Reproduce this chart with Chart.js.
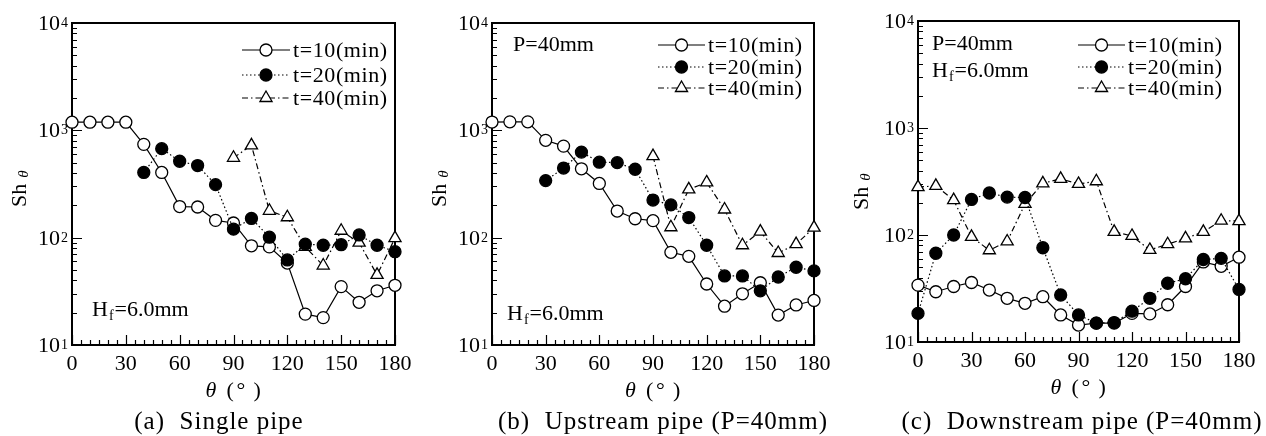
<!DOCTYPE html>
<html>
<head>
<meta charset="utf-8">
<script src="https://cdn.jsdelivr.net/npm/chart.js@4.4.1/dist/chart.umd.min.js"></script>
<style>
  body { margin: 0; background: #fff; }
  #wrap { position: relative; width: 1266px; height: 436px; }
  #wrap canvas { position: absolute; top: 0; }
</style>
</head>
<body>
<div id="wrap">
  <canvas id="panelA" width="422" height="436" style="left:0px"></canvas>
  <canvas id="panelB" width="422" height="436" style="left:422px"></canvas>
  <canvas id="panelC" width="422" height="436" style="left:844px"></canvas>
</div>
<script>
// ---- data: local Sherwood number vs. angle, three elapsed times ----
const thetaDeg = [0, 10, 20, 30, 40, 50, 60, 70, 80, 90, 100, 110, 120, 130, 140, 150, 160, 170, 180];
const thetaTicks = [0, 30, 60, 90, 120, 150, 180];
const thetaMinorStep = 5;
const shDecades = [10, 100, 1000, 10000];
const runLabels = ['t=10(min)', 't=20(min)', 't=40(min)'];

// (a) single pipe
const singleT10 = [1190, 1190, 1190, 1190, 740, 405, 195, 193, 145, 137, 84, 82, 58, 19.4, 18, 35, 25, 32, 36];
const singleT20 = [null, null, null, null, 405, 675, 515, 470, 312, 120, 151, 101, 62, 87, 85, 86, 106, 85, 74];
const singleT40 = [null, null, null, null, null, null, null, null, null, 555, 724, 178, 155, 82, 55, 116, 90, 45, 99];

// (b) upstream pipe
const upT10 = [1195, 1200, 1200, 807, 713, 438, 320, 177, 150, 144, 73, 67, 37, 23, 30, 38, 19, 23.6, 26];
const upT20 = [null, null, null, 340, 445, 627, 505, 500, 434, 224, 202, 154, 85, 44, 44, 32, 43, 53, 49];
const upT40 = [null, null, null, null, null, null, null, null, null, 575, 125, 282, 327, 183, 85, 114, 72, 87, 124];

// (c) downstream pipe
const downT10 = [34, 29.5, 33, 36, 30.6, 25.6, 23, 26.5, 17.9, 14.4, 15, 15, 18.5, 18.3, 22.3, 33, 56, 51, 62];
const downT20 = [18.5, 67.5, 100, 215, 247, 226, 224, 76, 27.5, 17.9, 15, 15.2, 19.4, 25.6, 35.4, 39, 59, 60.5, 31];
const downT40 = [280, 288, 212, 96, 72, 87, 195, 304, 335, 300, 318, 107, 98, 72.5, 82, 93, 107, 136, 135];

// ---- styles ----
const SERIF = '"Liberation Serif", "Times New Roman", serif';
const runStyles = [
  { pointStyle: 'circle',   fill: '#ffffff', dash: [],             r: 6, order: 2 },
  { pointStyle: 'circle',   fill: '#000000', dash: [1.5, 2.5],     r: 6, order: 0 },
  { pointStyle: 'triangle', fill: '#ffffff', dash: [6, 3, 1.5, 3], r: 7, order: 1 }
];

const panels = [
  {
    canvas: 'panelA', left: 0, series: [singleT10, singleT20, singleT40],
    pad: { left: 72, right: 27, top: 23, bottom: 91 },
    legend: { x0: 242, x1: 290, tx: 293, rows: [50, 75, 98] },
    notes: [{ x: 92, y: 316, h: true }],
    yTitle: { x: 26, y: 207 },
    caption: { text: '(a)  Single pipe', cx: 219 }
  },
  {
    canvas: 'panelB', left: 422, series: [upT10, upT20, upT40],
    pad: { left: 70, right: 30, top: 23, bottom: 91 },
    legend: { x0: 658, x1: 705, tx: 708, rows: [45, 67, 88] },
    notes: [{ x: 513, y: 51, text: 'P=40mm' }, { x: 507, y: 320, h: true }],
    yTitle: { x: 446, y: 207 },
    caption: { text: '(b)  Upstream pipe (P=40mm)', cx: 663 }
  },
  {
    canvas: 'panelC', left: 844, series: [downT10, downT20, downT40],
    pad: { left: 74, right: 27, top: 21, bottom: 94 },
    legend: { x0: 1078, x1: 1125, tx: 1128, rows: [45, 67, 88] },
    notes: [{ x: 932, y: 50, text: 'P=40mm' }, { x: 932, y: 77, h: true }],
    yTitle: { x: 868, y: 210 },
    caption: { text: '(c)  Downstream pipe (P=40mm)', cx: 1082 }
  }
];

function drawMarker(ctx, st, x, y) {
  ctx.save();
  ctx.setLineDash([]);
  ctx.lineWidth = 1.3;
  ctx.strokeStyle = '#000';
  ctx.fillStyle = st.fill;
  ctx.beginPath();
  if (st.pointStyle === 'triangle') {
    const r = st.r;
    ctx.moveTo(x, y - r);
    ctx.lineTo(x + r * 0.866, y + r / 2);
    ctx.lineTo(x - r * 0.866, y + r / 2);
    ctx.closePath();
  } else {
    ctx.arc(x, y, st.r, 0, Math.PI * 2);
  }
  ctx.fill();
  ctx.stroke();
  ctx.restore();
}

// H_f=6.0mm with a subscript f
function drawHf(ctx, x, y) {
  ctx.font = '22px ' + SERIF;
  ctx.fillText('H', x, y);
  let w = ctx.measureText('H').width;
  ctx.font = '14px ' + SERIF;
  ctx.fillText('f', x + w + 1, y + 4);
  w += ctx.measureText('f').width + 2;
  ctx.font = '22px ' + SERIF;
  ctx.fillText('=6.0mm', x + w, y);
}

const decor = {
  id: 'decor',
  beforeDatasetsDraw(chart, args, o) {
    const { ctx, chartArea: a, scales: { x, y } } = chart;
    ctx.save();
    ctx.strokeStyle = '#000';
    ctx.lineWidth = 2;
    ctx.strokeRect(a.left, a.top, a.right - a.left, a.bottom - a.top);

    // inward tick marks on the bottom and left edges
    ctx.lineWidth = 1.2;
    ctx.beginPath();
    for (let t = x.min; t <= x.max; t += thetaMinorStep) {
      const px = Math.round(x.getPixelForValue(t)) + 0.5;
      const len = thetaTicks.includes(t) ? 10 : 5;
      ctx.moveTo(px, a.bottom);
      ctx.lineTo(px, a.bottom - len);
    }
    shDecades.slice(0, -1).forEach(d => {
      for (let k = 1; k <= 9; k++) {
        const py = Math.round(y.getPixelForValue(k * d)) + 0.5;
        const len = k === 1 ? 10 : 5;
        ctx.moveTo(a.left, py);
        ctx.lineTo(a.left + len, py);
      }
    });
    ctx.stroke();
    ctx.restore();
  },
  afterDraw(chart, args, o) {
    const { ctx, chartArea: a, scales: { x, y } } = chart;
    const L = o.left;
    ctx.save();
    ctx.fillStyle = '#000';
    ctx.textBaseline = 'alphabetic';

    // y tick labels 10^n
    shDecades.forEach(d => {
      const py = y.getPixelForValue(d);
      ctx.font = '22px ' + SERIF;
      ctx.textAlign = 'right';
      ctx.fillText('10', a.left - 12, py + 7);
      ctx.font = '14px ' + SERIF;
      ctx.textAlign = 'left';
      ctx.fillText(String(Math.round(Math.log10(d))), a.left - 11, py + 4);
    });

    // x tick labels
    ctx.font = '22px ' + SERIF;
    ctx.textAlign = 'center';
    thetaTicks.forEach(t => ctx.fillText(String(t), x.getPixelForValue(t), a.bottom + 25));

    // x title: theta (deg)
    const cx = (a.left + a.right) / 2;
    const ty = a.bottom + 52;
    ctx.textAlign = 'left';
    ctx.font = 'italic 22px ' + SERIF;
    ctx.fillText('\u03b8', cx - 28, ty);
    ctx.font = '22px ' + SERIF;
    ctx.fillText('(', cx - 7, ty);
    ctx.fillText('\u00b0', cx + 3, ty);
    ctx.fillText(')', cx + 20, ty);

    // y title: Sh theta
    ctx.save();
    ctx.translate(o.yTitle.x - L, o.yTitle.y);
    ctx.rotate(-Math.PI / 2);
    ctx.font = '22px ' + SERIF;
    ctx.fillText('Sh', 0, 0);
    const sw = ctx.measureText('Sh').width;
    ctx.font = 'italic 15px ' + SERIF;
    ctx.fillText('\u03b8', sw + 6, 2);
    ctx.restore();

    // notes inside the frame
    o.notes.forEach(n => {
      if (n.h) {
        drawHf(ctx, n.x - L, n.y);
      } else {
        ctx.font = '22px ' + SERIF;
        ctx.fillText(n.text, n.x - L, n.y);
      }
    });

    // legend
    const lg = o.legend;
    chart.data.datasets.forEach((ds, i) => {
      const st = runStyles[i];
      const ry = lg.rows[i];
      ctx.save();
      ctx.lineWidth = 1.2;
      ctx.strokeStyle = '#000';
      ctx.setLineDash(st.dash);
      ctx.beginPath();
      ctx.moveTo(lg.x0 - L, ry);
      ctx.lineTo(lg.x1 - L, ry);
      ctx.stroke();
      ctx.restore();
      drawMarker(ctx, st, (lg.x0 + lg.x1) / 2 - L, ry);
      ctx.font = '22px ' + SERIF;
      ctx.letterSpacing = '0.6px';
      ctx.textAlign = 'left';
      ctx.fillText(ds.label, lg.tx - L, ry + 7);
      ctx.letterSpacing = '0px';
    });

    // caption
    ctx.font = '25px ' + SERIF;
    ctx.letterSpacing = '1px';
    ctx.textAlign = 'center';
    ctx.fillText(o.caption.text, o.caption.cx - L, 429);
    ctx.letterSpacing = '0px';
    ctx.restore();
  }
};

panels.forEach(p => {
  const datasets = p.series.map((vals, i) => {
    const st = runStyles[i];
    return {
      label: runLabels[i],
      data: thetaDeg.map((t, j) => ({ x: t, y: vals[j] })),
      borderColor: '#000',
      borderWidth: 1.2,
      borderDash: st.dash,
      pointStyle: st.pointStyle,
      pointRadius: st.r,
      pointBackgroundColor: st.fill,
      pointBorderColor: '#000',
      pointBorderWidth: 1.3,
      order: st.order,
      spanGaps: false,
      tension: 0,
      clip: false
    };
  });

  new Chart(document.getElementById(p.canvas), {
    type: 'line',
    data: { datasets },
    options: {
      responsive: false,
      animation: false,
      devicePixelRatio: 1,
      layout: { padding: p.pad },
      scales: {
        x: { type: 'linear', min: 0, max: 180, display: false },
        y: { type: 'logarithmic', min: 10, max: 10000, display: false }
      },
      plugins: {
        legend: { display: false },
        tooltip: { enabled: false },
        decor: p
      }
    },
    plugins: [decor]
  });
});
</script>
</body>
</html>
